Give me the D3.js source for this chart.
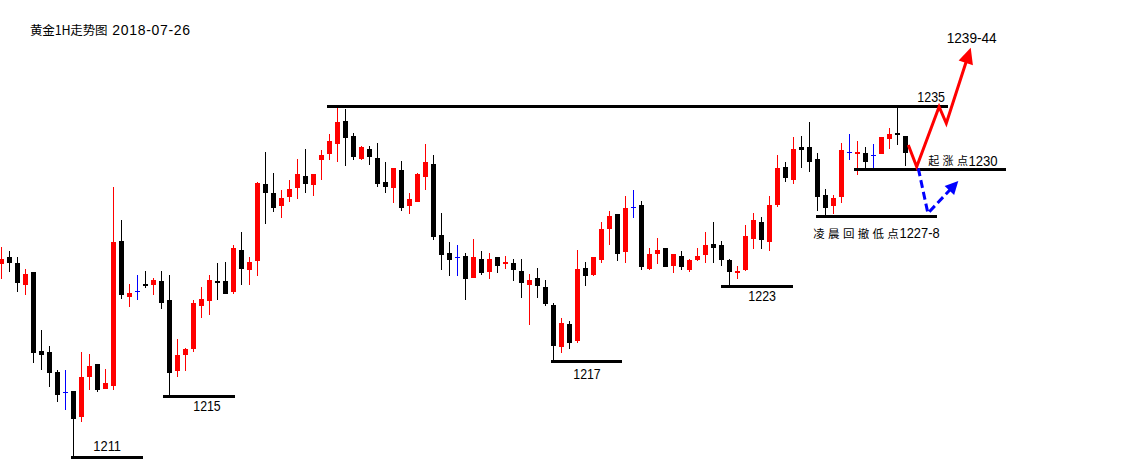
<!DOCTYPE html>
<html><head><meta charset="utf-8">
<script src="https://cdn.jsdelivr.net/npm/d3@7/dist/d3.min.js"></script>
<style>html,body{margin:0;padding:0;background:#fff;overflow:hidden}</style>
</head><body>
<svg id="chart" width="1129" height="469"></svg>
<script>
// ---------------- DATA ----------------
const titleText = "黄金1H走势图";
const titleDate = "2018-07-26";

const open = [1224.18,1224.64,1224.23,1222.75,1223.61,1218.23,1218.16,1216.80,1215.43,1215.50,
1213.75,1216.48,1217.34,1215.66,1215.86,1225.73,1221.93,1222.32,1222.80,1222.75,
1223.00,1221.70,1216.88,1217.95,1218.38,1221.32,1221.66,1223.00,1223.00,1222.27,
1225.11,1223.77,1224.38,1229.59,1228.98,1228.13,1228.75,1229.36,1230.16,1229.57,
1231.25,1231.68,1232.36,1233.91,1232.89,1231.32,1232.00,1231.39,1229.75,1229.36,
1230.57,1228.13,1228.41,1230.11,1230.98,1226.14,1224.91,1224.62,1224.70,1223.23,
1224.50,1223.63,1224.64,1224.18,1224.23,1223.68,1222.75,1223.20,1222.59,1221.36,
1218.52,1220.07,1218.93,1223.89,1223.41,1224.45,1226.55,1227.57,1225.00,1228.02,
1228.18,1223.84,1224.86,1225.25,1224.04,1224.70,1223.77,1224.45,1224.79,1225.52,
1225.45,1224.43,1223.56,1223.76,1225.88,1227.02,1225.68,1228.20,1230.77,1229.91,
1232.14,1232.14,1231.34,1228.86,1228.13,1228.75,1231.80,1231.68,1231.73,1231.59,
1231.68,1232.68,1233.09,1232.89];
const high = [1225.30,1225.05,1224.62,1223.82,1223.61,1219.66,1218.57,1216.93,1216.93,1215.50,
1218.16,1218.02,1217.34,1217.00,1229.43,1227.16,1222.80,1223.41,1223.68,1223.20,
1223.68,1223.41,1219.07,1218.45,1221.70,1222.59,1223.41,1224.23,1224.30,1225.45,
1226.32,1224.64,1229.75,1231.78,1230.36,1229.18,1229.89,1231.30,1231.98,1230.30,
1231.93,1233.02,1234.84,1234.73,1233.09,1232.18,1232.20,1232.41,1231.11,1230.70,
1231.18,1229.00,1230.36,1232.34,1231.59,1227.64,1225.66,1225.45,1224.91,1225.86,
1225.05,1224.91,1224.64,1224.70,1224.50,1224.50,1223.48,1223.89,1223.07,1221.50,
1220.48,1220.27,1225.11,1224.30,1224.64,1227.02,1227.77,1227.57,1228.80,1229.20,
1228.45,1225.25,1225.93,1225.25,1224.84,1225.05,1224.50,1225.25,1226.34,1227.02,
1225.73,1224.50,1224.02,1226.82,1227.64,1227.36,1228.80,1231.59,1231.11,1232.82,
1232.89,1233.84,1231.75,1229.27,1228.86,1232.41,1233.02,1232.55,1232.14,1232.34,
1232.82,1233.43,1234.88,1232.89];
const low = [1223.16,1223.63,1222.27,1222.07,1217.39,1216.93,1215.79,1214.77,1214.20,1211.02,
1213.37,1215.57,1215.45,1215.66,1215.57,1221.75,1221.25,1221.73,1222.54,1222.05,
1221.11,1215.23,1216.48,1216.88,1218.18,1220.50,1220.68,1221.70,1222.10,1222.09,
1222.73,1222.73,1223.36,1226.91,1227.73,1227.32,1228.41,1228.61,1229.02,1228.82,
1229.91,1231.25,1231.11,1230.86,1231.25,1231.25,1230.91,1229.43,1229.00,1228.34,
1227.79,1227.59,1228.41,1229.23,1225.82,1223.77,1223.36,1223.36,1221.73,1223.23,
1223.41,1223.16,1223.57,1223.84,1223.02,1221.86,1220.02,1221.86,1221.32,1217.50,
1218.11,1218.38,1218.79,1222.68,1223.34,1224.25,1225.48,1224.38,1224.25,1227.32,
1223.77,1223.77,1224.18,1223.98,1223.57,1223.77,1223.63,1224.38,1224.25,1224.25,
1224.04,1222.61,1223.17,1223.65,1225.20,1225.20,1225.07,1228.07,1229.77,1229.63,
1230.73,1230.45,1227.79,1227.38,1227.59,1228.34,1231.25,1230.25,1230.64,1230.70,
1231.68,1232.00,1232.29,1230.84];
const close = [1224.50,1224.25,1222.88,1223.48,1218.11,1217.98,1216.71,1215.25,1215.43,1213.61,
1216.45,1217.20,1215.57,1216.05,1225.66,1222.05,1222.18,1222.32,1222.68,1223.05,
1221.52,1216.75,1217.95,1218.38,1221.52,1221.77,1223.07,1222.88,1222.13,1225.25,
1223.84,1224.30,1229.70,1229.02,1228.00,1228.64,1229.27,1230.30,1229.63,1230.30,
1231.59,1232.55,1233.84,1232.77,1231.48,1232.14,1231.48,1229.63,1229.43,1230.70,
1228.00,1228.59,1230.30,1231.11,1226.02,1224.79,1224.45,1224.62,1223.16,1224.64,
1223.57,1224.50,1224.04,1224.30,1223.77,1222.88,1223.07,1222.68,1221.45,1218.59,
1220.14,1218.79,1223.82,1223.36,1224.64,1226.55,1227.43,1224.86,1227.98,1228.02,
1223.98,1224.84,1225.11,1223.98,1224.84,1223.98,1224.43,1224.70,1225.45,1225.27,
1224.45,1223.63,1223.70,1226.07,1227.16,1225.82,1228.18,1230.70,1230.04,1232.00,
1231.95,1231.13,1228.75,1228.00,1228.66,1231.93,1231.80,1231.80,1231.13,1231.59,
1232.82,1233.02,1232.98,1231.76];

// support / resistance levels
const levelPrices = [1210.99, 1215.15, 1217.48, 1222.64, 1227.37, 1230.62, 1234.91];
const levelLabels = ["1211", "1215", "1217", "1223", "凌晨回撤低点1227-8", "起涨点1230", "1235"];
const levelStart  = [8.69, 20.15, 68.69, 89.94, 101.81, 106.56, 40.69];
const levelEnd    = [17.65, 29.15, 77.56, 98.90, 116.90, 125.56, 118.28];

// projected paths (bar index, price)
const upPathIdx   = [113.35, 114.4, 117.2, 118.1, 121.15];
const upPathPrice = [1232.27, 1230.79, 1234.88, 1233.75, 1238.91];
const upTarget = "1239-44";
const pullPathIdx   = [114.6, 115.8, 119.6];
const pullPathPrice = [1230.68, 1227.62, 1229.82];

// ---------------- DRAW ----------------
const svg = d3.select("#chart");
const n = open.length;
const x = d3.scaleLinear().domain([0, n - 1]).range([1.5, 905.5]);
const y = d3.scaleLinear().domain([1211, 1235]).range([457, 105]);
const colorOf = i => close[i] > open[i] ? "#ff0000" : (close[i] < open[i] ? "#000000" : "#0000ff");

const cg = svg.append("g").attr("shape-rendering", "crispEdges");
const idx = d3.range(n);
cg.selectAll("line.wick").data(idx).join("line").attr("class", "wick")
  .attr("x1", i => x(i)).attr("x2", i => x(i))
  .attr("y1", i => Math.round(y(high[i]))).attr("y2", i => Math.round(y(low[i])))
  .attr("stroke", colorOf).attr("stroke-width", 1);
cg.selectAll("rect.body").data(idx).join("rect").attr("class", "body")
  .attr("x", i => x(i) - 2.5).attr("width", 5)
  .attr("y", i => Math.round(y(Math.max(open[i], close[i]))))
  .attr("height", i => Math.max(1, Math.round(y(Math.min(open[i], close[i]))) - Math.round(y(Math.max(open[i], close[i])))))
  .attr("fill", colorOf);

// level lines
const lg = svg.append("g").attr("shape-rendering", "crispEdges");
levelPrices.forEach((p, k) => {
  lg.append("line").attr("x1", x(levelStart[k])).attr("x2", x(levelEnd[k]))
    .attr("y1", y(p)).attr("y2", y(p)).attr("stroke", "#000").attr("stroke-width", 3);
});

// label layout (pixel offsets relative to line start/end and line y)
const labelLayout = [
  {ref: "start", dx: 22.3, dy: -6.0, len: 27.7},
  {ref: "start", dx: 30.6, dy: 14.8, len: 27.4},
  {ref: "start", dx: 22.3, dy: 17.3, len: 27.4},
  {ref: "start", dx: 27.3, dy: 15.0, len: 27.7},
  {ref: "start", dx: -2.7, dy: 21.2, len: 40, cjkSize: 11.5, cjkPitch: 14.8, numDx: 83.6},
  {ref: "start", dx: 74.3, dy: -3.4, len: 29.2, cjkSize: 11, cjkPitch: 14.3, numDx: 114.4},
  {ref: "end", dx: -30.4, dy: -4.2, len: 27.7}
];
const NUMFONT = "'Liberation Sans', Arial, sans-serif";
const CJKFONT = "'Noto Sans CJK SC', sans-serif";
const tg = svg.append("g").attr("fill", "#000");
levelLabels.forEach((lab, k) => {
  const L = labelLayout[k];
  const refX = L.ref === "start" ? x(levelStart[k]) : x(levelEnd[k]);
  const bx = refX + L.dx;
  const by = y(levelPrices[k]) + L.dy;
  const m = lab.match(/^([^\x00-\x7f]*)(.*)$/);
  const cjk = m[1], num = m[2];
  if (cjk) {
    const xs = Array.from(cjk).map((c, j) => (bx + j * L.cjkPitch).toFixed(2)).join(" ");
    tg.append("text").attr("x", xs).attr("y", by - 0.5).attr("font-family", CJKFONT)
      .attr("font-size", L.cjkSize).text(cjk);
  }
  tg.append("text").attr("x", cjk ? refX + L.numDx : bx).attr("y", by)
    .attr("font-family", NUMFONT).attr("font-size", 14)
    .attr("textLength", L.len).attr("lengthAdjust", "spacingAndGlyphs").text(num);
});

// arrows
function arrowPath(idxs, prices, color, width, headLen, headHalf, dash) {
  const pts = idxs.map((v, k) => [x(v), y(prices[k])]);
  const tip = pts[pts.length - 1], prev = pts[pts.length - 2];
  const dxv = tip[0] - prev[0], dyv = tip[1] - prev[1];
  const len = Math.hypot(dxv, dyv), ux = dxv / len, uy = dyv / len;
  const base = [tip[0] - ux * headLen, tip[1] - uy * headLen];
  const linePts = pts.slice(0, -1).concat([[base[0] + ux * 1, base[1] + uy * 1]]);
  const p = svg.append("path").attr("d", d3.line()(linePts)).attr("fill", "none")
    .attr("stroke", color).attr("stroke-width", width).attr("stroke-linejoin", "miter");
  if (dash) p.attr("stroke-dasharray", dash);
  const px = -uy, py = ux;
  svg.append("polygon").attr("points", [tip,
    [base[0] + px * headHalf, base[1] + py * headHalf],
    [base[0] - px * headHalf, base[1] - py * headHalf]].map(q => q.join(",")).join(" "))
    .attr("fill", color);
  return tip;
}
const upTip = arrowPath(upPathIdx, upPathPrice, "#ff0000", 3, 16, 7.5, null);
arrowPath(pullPathIdx, pullPathPrice, "#0000ff", 3, 13, 6.5, "8,4");

tg.append("text").attr("x", upTip[0] - 24).attr("y", upTip[1] - 5)
  .attr("font-family", NUMFONT).attr("font-size", 14)
  .attr("textLength", 50).attr("lengthAdjust", "spacingAndGlyphs").text(upTarget);

// title
tg.append("text").attr("x", 30).attr("y", 34.5).attr("font-family", CJKFONT)
  .attr("font-size", 12.5).attr("textLength", 77.5).attr("lengthAdjust", "spacing").text(titleText);
tg.append("text").attr("x", 112.3).attr("y", 35).attr("font-family", NUMFONT)
  .attr("font-size", 14).attr("textLength", 77.7).attr("lengthAdjust", "spacing").text(titleDate);
</script>
</body></html>
